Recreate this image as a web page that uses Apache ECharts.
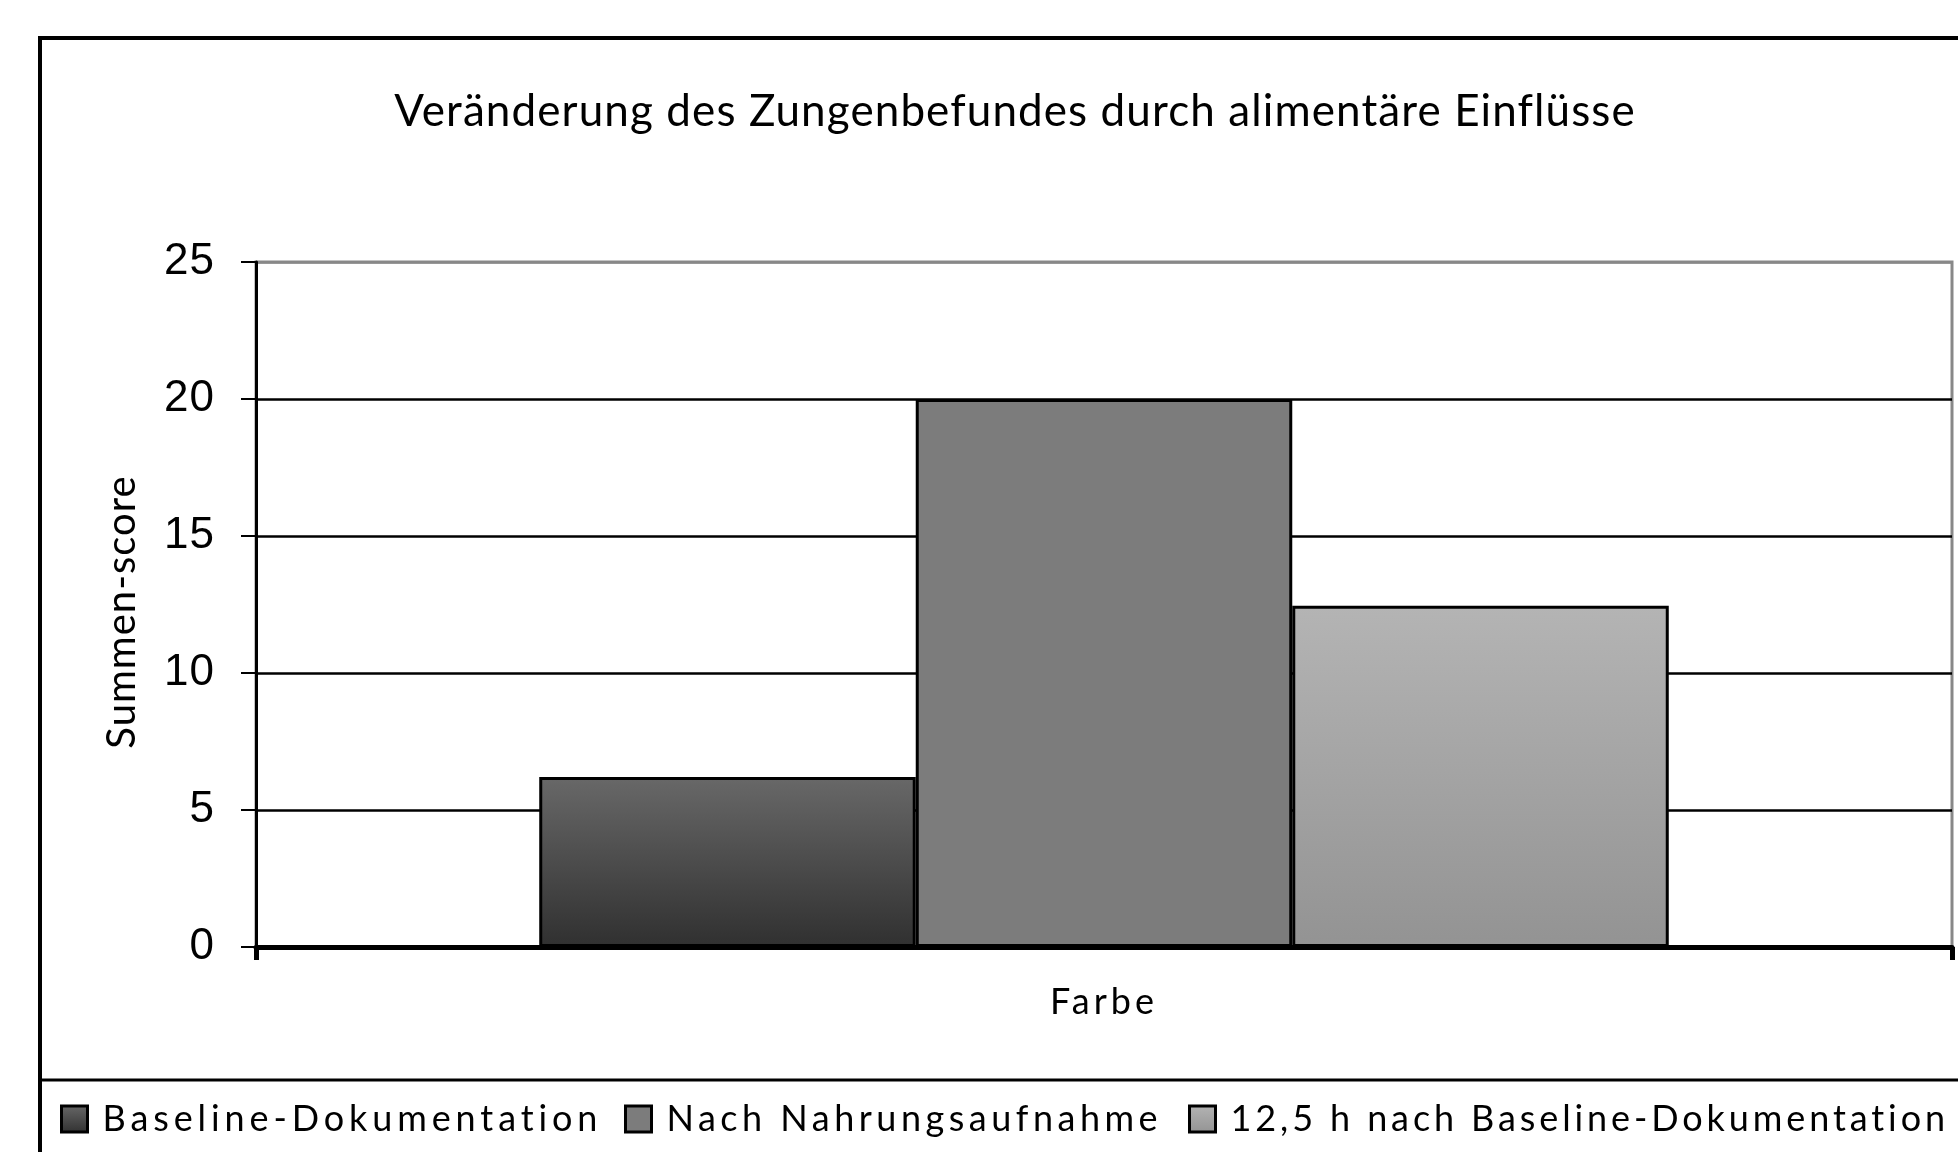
<!DOCTYPE html>
<html>
<head>
<meta charset="utf-8">
<script src="https://cdn.jsdelivr.net/npm/echarts@6/dist/echarts.min.js"></script>
<style>
  html, body { margin: 0; padding: 0; background: #fff; }
  #chart { width: 1958px; height: 1152px; }
</style>
</head>
<body>
<div id="chart"></div>
<script>
const titleText = 'Veränderung des Zungenbefundes durch alimentäre Einflüsse';
const yAxisName = 'Summen-score';
const categories = ['Farbe'];
const seriesNames = ['Baseline-Dokumentation', 'Nach Nahrungsaufnahme', '12,5 h nach Baseline-Dokumentation'];
const baselineValues = [6.2];
const nachNahrungValues = [20];
const nach125hValues = [12.45];
const yMin = 0, yMax = 25, yStep = 5;

// letter tracking of the original typesetting (style only)
const tracking = new Map([
  [titleText, 1.1],
  [yAxisName, 1],
  [categories[0], 4],
  [seriesNames[0], 4.9],
  [seriesNames[1], 4.5],
  [seriesNames[2], 3.9]
]);
const origFillText = CanvasRenderingContext2D.prototype.fillText;
CanvasRenderingContext2D.prototype.fillText = function (t, x, y, w) {
  const s = tracking.get(String(t));
  if (s !== undefined && 'letterSpacing' in this) {
    const prev = this.letterSpacing;
    this.letterSpacing = s + 'px';
    const r = w === undefined ? origFillText.call(this, t, x, y) : origFillText.call(this, t, x, y, w);
    this.letterSpacing = prev;
    return r;
  }
  return w === undefined ? origFillText.call(this, t, x, y) : origFillText.call(this, t, x, y, w);
};

const grad = (top, bottom) => new echarts.graphic.LinearGradient(0, 0, 0, 1, [
  { offset: 0, color: top }, { offset: 1, color: bottom }
]);
const fills = [grad('#686868', '#303030'), grad('#7c7c7c', '#7c7c7c'), grad('#b4b4b4', '#939393')];
const seriesValues = [baselineValues, nachNahrungValues, nach125hValues];

const chart = echarts.init(document.getElementById('chart'), null, { renderer: 'canvas' });
const textFont = 'Lato';
const legendLefts = [60, 624, 1188];

const option = {
  animation: false,
  backgroundColor: '#fff',
  title: {
    text: titleText,
    left: 1010,
    top: 85,
    textAlign: 'center',
    textStyle: { fontFamily: textFont, fontSize: 44, fontWeight: 'normal', color: '#000' }
  },
  legend: seriesNames.map((n, i) => ({
    data: [n],
    left: legendLefts[i],
    top: 1101,
    padding: 0,
    icon: 'rect',
    itemWidth: 26,
    itemHeight: 26,
    itemStyle: { borderColor: '#000', borderWidth: 3 },
    textStyle: { fontFamily: textFont, fontSize: 36, color: '#000', padding: [0, 0, 0, 10] }
  })),
  grid: {
    left: 256, top: 262, right: 6, bottom: 205,
    show: true, borderColor: '#888', borderWidth: 3, backgroundColor: 'transparent'
  },
  xAxis: {
    type: 'category',
    data: categories,
    boundaryGap: true,
    axisLine: { show: true, lineStyle: { color: '#000', width: 5 } },
    axisTick: { show: true, length: 13, lineStyle: { color: '#000', width: 5 } },
    axisLabel: { margin: 37, fontFamily: textFont, fontSize: 36, color: '#000' },
    splitLine: { show: false }
  },
  yAxis: {
    type: 'value',
    min: yMin, max: yMax, interval: yStep,
    name: yAxisName,
    nameLocation: 'middle',
    nameRotate: 90,
    nameGap: 114,
    nameTextStyle: { fontFamily: textFont, fontSize: 40, color: '#000', padding: [0, 15, 0, 0] },
    axisLine: { show: true, lineStyle: { color: '#000', width: 3 } },
    axisTick: { show: true, length: 15, lineStyle: { color: '#000', width: 2 } },
    axisLabel: { margin: 41, fontFamily: 'Liberation Sans', fontSize: 44, color: '#000' },
    splitLine: { show: true, lineStyle: { color: ['#000', '#000', '#000', '#000', '#000', '#888'], width: 2.5 } }
  },
  graphic: [
    { type: 'rect', z: 100, silent: true, shape: { x: 40, y: 38, width: 2100, height: 2100 },
      style: { fill: 'none', stroke: '#000', lineWidth: 4 } },
    { type: 'line', z: 100, silent: true, shape: { x1: 40, y1: 1080, x2: 1958, y2: 1080 },
      style: { stroke: '#000', lineWidth: 3 } }
  ],
  series: seriesNames.map((n, i) => ({
    name: n,
    type: 'bar',
    data: seriesValues[i],
    barGap: '0%',
    barCategoryGap: '33.4%',
    itemStyle: { color: fills[i], borderColor: '#000', borderWidth: 3 }
  }))
};
chart.setOption(option);
</script>
</body>
</html>
